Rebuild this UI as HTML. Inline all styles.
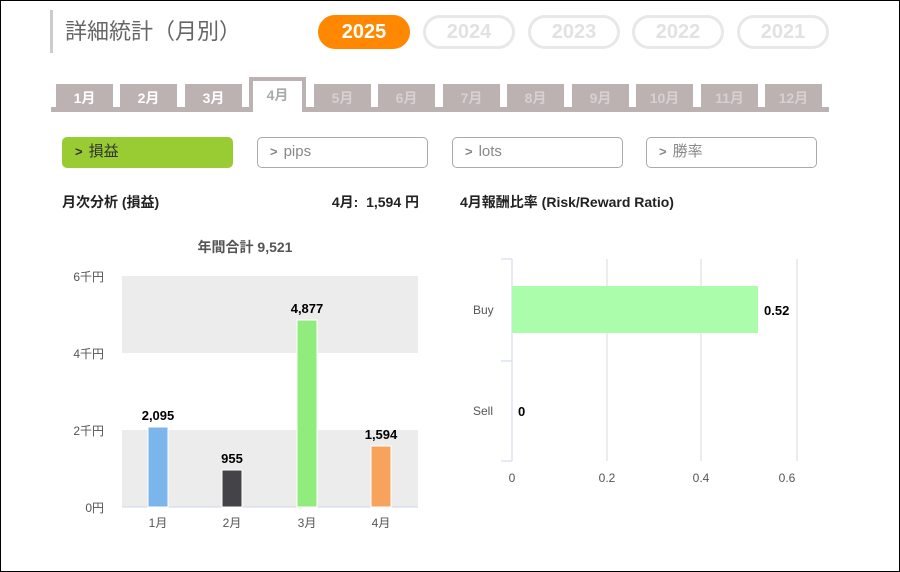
<!DOCTYPE html><html><head><meta charset="utf-8"><style>
*{margin:0;padding:0;box-sizing:border-box}
body{width:900px;height:572px;background:#fff;font-family:"Liberation Sans","Noto Sans CJK JP",sans-serif;position:relative;overflow:hidden}
.frame{position:absolute;left:0;top:0;width:900px;height:572px;border:1px solid #000}
.a{position:absolute}
.pill{position:absolute;top:15px;height:34px;width:92px;border-radius:17px;border:3px solid #e8e8e8;color:#e2e2e2;font-weight:bold;font-size:20px;text-align:center;line-height:28px}
.tab{position:absolute;top:84px;width:57px;height:26px;background:#bcb2b2;color:#fff;font-weight:bold;font-size:14px;text-align:center;line-height:28px}
.tab.d{color:#d6d0d0}
.btn{position:absolute;top:137px;height:31px;width:171px;border:1.5px solid #aaa;border-radius:5px;color:#888;font-size:15px;line-height:28px;padding-left:12px}
.btn b{font-size:13px;margin-right:6px}
svg text{font-family:"Liberation Sans","Noto Sans CJK JP",sans-serif}
</style></head><body>
<div class="frame"></div>
<div class="a" style="left:50px;top:10px;width:3px;height:43px;background:#ccc"></div>
<div class="a" style="left:65px;top:14px;font-size:22px;color:#666">詳細統計（月別）</div>
<div class="pill" style="left:318px;background:#ff8800;border-color:#ff8800;color:#fff">2025</div>
<div class="pill" style="left:423px">2024</div>
<div class="pill" style="left:528px">2023</div>
<div class="pill" style="left:632px">2022</div>
<div class="pill" style="left:737px">2021</div>
<div class="a" style="left:51px;top:107px;width:778px;height:5px;background:#bcb2b2"></div>
<div class="tab" style="left:56px">1月</div>
<div class="tab" style="left:120px">2月</div>
<div class="tab" style="left:185px">3月</div>
<div class="a" style="left:249px;top:77px;width:57px;height:35px;background:#fff;border:4px solid #bcb2b2;border-bottom:none;color:#aaa;font-weight:bold;font-size:14px;text-align:center;line-height:28px">4月</div>
<div class="tab d" style="left:314px">5月</div>
<div class="tab d" style="left:378px">6月</div>
<div class="tab d" style="left:443px">7月</div>
<div class="tab d" style="left:507px">8月</div>
<div class="tab d" style="left:572px">9月</div>
<div class="tab d" style="left:636px">10月</div>
<div class="tab d" style="left:701px">11月</div>
<div class="tab d" style="left:765px">12月</div>
<div class="btn" style="left:62px;background:#99cc33;border-color:#99cc33;color:#333"><b>&gt;</b>損益</div>
<div class="btn" style="left:257px"><b>&gt;</b>pips</div>
<div class="btn" style="left:452px"><b>&gt;</b>lots</div>
<div class="btn" style="left:646px"><b>&gt;</b>勝率</div>
<div class="a" style="left:62px;top:192px;font-size:14px;font-weight:bold;color:#222">月次分析 (損益)</div>
<div class="a" style="left:313px;top:192px;font-size:14px;font-weight:bold;color:#222;width:106px;text-align:right;white-space:nowrap">4月:&nbsp; 1,594 円</div>
<div class="a" style="left:460px;top:192px;font-size:14px;font-weight:bold;color:#222">4月報酬比率 (Risk/Reward Ratio)</div>
<svg class="a" style="left:0;top:0" width="900" height="572">
<text x="245" y="252" text-anchor="middle" font-size="14" font-weight="bold" fill="#555">年間合計 9,521</text>
<rect x="122" y="276" width="296" height="77" fill="#ececec"/>
<rect x="122" y="430" width="296" height="77" fill="#ececec"/>
<line x1="122" y1="507" x2="418" y2="507" stroke="#ccd6eb"/>
<g font-size="12" fill="#555" text-anchor="end">
<text x="104" y="281">6千円</text><text x="104" y="358">4千円</text><text x="104" y="435">2千円</text><text x="104" y="512">0円</text></g>
<g stroke="#fff" stroke-width="1">
<rect x="148" y="427" width="20" height="80" fill="#7cb5ec"/>
<rect x="222" y="470" width="20" height="37" fill="#434348"/>
<rect x="297" y="320" width="20" height="187" fill="#90ed7d"/>
<rect x="371" y="446" width="20" height="61" fill="#f7a35c"/></g>
<g font-size="13" font-weight="bold" fill="#000" text-anchor="middle">
<text x="158" y="420">2,095</text><text x="232" y="463">955</text><text x="307" y="313">4,877</text><text x="381" y="439">1,594</text></g>
<g font-size="12" fill="#555" text-anchor="middle">
<text x="158" y="527">1月</text><text x="232" y="527">2月</text><text x="307" y="527">3月</text><text x="381" y="527">4月</text></g>
<g stroke="#e6e6e6" stroke-width="1.5"><line x1="607" y1="259" x2="607" y2="461"/><line x1="701" y1="259" x2="701" y2="461"/><line x1="797" y1="259" x2="797" y2="461"/></g>
<g stroke="#ccd6eb" fill="none"><line x1="512" y1="259" x2="512" y2="461"/><line x1="501" y1="259" x2="512" y2="259"/><line x1="501" y1="361" x2="512" y2="361"/><line x1="501" y1="461" x2="512" y2="461"/></g>
<rect x="512" y="286" width="246" height="47" fill="#abfcab"/>
<g font-size="12" fill="#555"><text x="473" y="314">Buy</text><text x="473" y="415">Sell</text></g>
<g font-size="13" font-weight="bold" fill="#000"><text x="764" y="315">0.52</text><text x="518" y="416">0</text></g>
<g font-size="12" fill="#555" text-anchor="middle"><text x="512" y="482">0</text><text x="607" y="482">0.2</text><text x="701" y="482">0.4</text><text x="787" y="482">0.6</text></g>
</svg>
</body></html>
